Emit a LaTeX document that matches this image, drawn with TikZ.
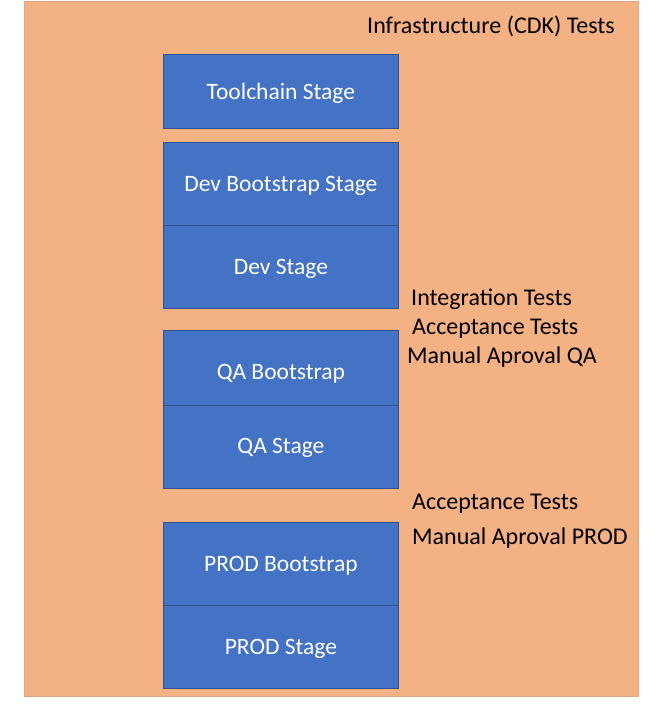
\documentclass[tikz,border=0pt]{standalone}
\usepackage{fontspec}
\setmainfont{Carlito}
\definecolor{bgorange}{HTML}{F4B183}
\definecolor{boxblue}{HTML}{4472C4}
\definecolor{boxedge}{HTML}{2F528F}
\newcommand{\lowr}[2]{\raisebox{-#1pt}[\height][\depth]{#2}}
\begin{document}
\begin{tikzpicture}[x=1pt,y=-1pt,
  stagebox/.style={draw=boxedge,line width=0.8pt,fill=boxblue,text=white,font=\fontsize{23.5}{28}\selectfont,anchor=north west,inner sep=0pt,minimum width=235pt},
  note/.style={anchor=west,inner sep=0pt,text=black,font=\fontsize{24}{28}\selectfont}]
\useasboundingbox (0,0) rectangle (655,705);
\node[fill=bgorange,draw=bgorange!80!gray,line width=0.8pt,anchor=north west,minimum width=614pt,minimum height=695pt,inner sep=0pt] (bg) at (24,1) {};
\node[stagebox,minimum height=74pt] (tool) at (163,54) {\lowr{2}{Toolchain Stage}};
\node[stagebox,minimum height=83pt] (devb) at (163,142) {\lowr{2}{Dev Bootstrap Stage}};
\node[stagebox,minimum height=83pt] (dev) at (163,225) {\lowr{2}{Dev Stage}};
\node[stagebox,minimum height=75pt] (qab) at (163,330) {\lowr{6}{QA Bootstrap}};
\node[stagebox,minimum height=83pt] (qa) at (163,405) {\lowr{1}{QA Stage}};
\node[stagebox,minimum height=83pt] (prodb) at (163,522) {\lowr{2}{PROD Bootstrap}};
\node[stagebox,minimum height=83pt] (prod) at (163,605) {\lowr{2}{PROD Stage}};
\node[note] (t1) at (367,26) {Infrastructure (CDK) Tests};
\node[note] (t2) at (411,299) {Integration Tests};
\node[note] (t3) at (412,329) {Acceptance Tests};
\node[note] (t4) at (407,357) {Manual Aproval QA};
\node[note] (t5) at (412,504) {Acceptance Tests};
\node[note] (t6) at (412,538) {Manual Aproval PROD};
\end{tikzpicture}
\end{document}
